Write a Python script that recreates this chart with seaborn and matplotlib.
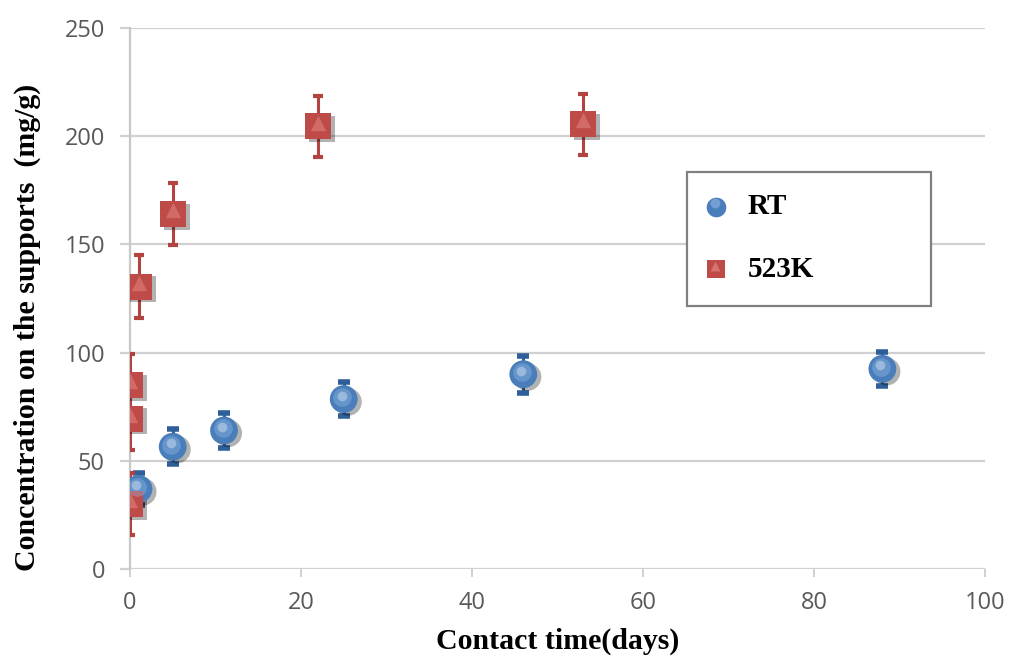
import numpy as np
import pandas as pd
import matplotlib
matplotlib.use("Agg")
import matplotlib.pyplot as plt
import matplotlib.patheffects as pe
from matplotlib.patches import Rectangle
import seaborn as sns

# Room-temperature series
rt_days = [1, 5, 11, 25, 46, 88]
rt_conc = [37, 56.5, 64, 78.5, 90, 92.5]
rt_err = [7.5, 8, 8, 8, 8.5, 8]

# 523 K series
k523_days = [0, 0, 0, 1, 5, 22, 53]
k523_conc = [30, 69.5, 85, 130.5, 164, 204.5, 205.5]
k523_err = [14.5, 14.5, 14.5, 14.5, 14.5, 14, 14]

series_names = ["RT", "523K"]
x_ticks = [0, 20, 40, 60, 80, 100]
y_ticks = [0, 50, 100, 150, 200, 250]

df = pd.concat([
    pd.DataFrame({"days": rt_days, "conc": rt_conc, "err": rt_err, "series": series_names[0]}),
    pd.DataFrame({"days": k523_days, "conc": k523_conc, "err": k523_err, "series": series_names[1]}),
], ignore_index=True)

sns.set_theme(style="white")
fig = plt.figure(figsize=(10.09, 6.59), dpi=100)
ax = fig.add_axes([0.1288, 0.1366, 0.8474, 0.8209])

palette = {"RT": "#4a7ebb", "523K": "#bf4b48"}
highlight = {"RT": "#9cc0ec", "523K": "#f09a96"}
bar_col = {"RT": "#2f5f98", "523K": "#b34341"}
markers = {"RT": "o", "523K": "s"}
sizes = {"RT": 400, "523K": 350}
shadow = [pe.SimplePatchShadow(offset=(3, -2), shadow_rgbFace="#000000", alpha=0.3), pe.Normal()]

# error bars
for name in series_names:
    sub = df[df.series == name]
    ax.errorbar(sub.days, sub.conc, yerr=sub.err, fmt="none", ecolor=bar_col[name],
                elinewidth=2.2, capsize=4.5 if name == "RT" else 3.8,
                capthick=4 if name == "RT" else 3, zorder=3)

# markers
sns.scatterplot(data=df, x="days", y="conc", hue="series", style="series",
                markers=markers, palette=palette, size="series", sizes=sizes,
                edgecolor="none", ax=ax, legend=False, zorder=4)
for coll in ax.collections:
    coll.set_path_effects(shadow)

# soft glossy shading on markers
for name in series_names:
    sub = df[df.series == name]
    if name == "RT":
        ax.scatter(sub.days - 0.15, sub.conc + 1.0, marker="o", s=sizes[name] * 0.45,
                   color=highlight[name], alpha=0.35, linewidths=0, zorder=5)
        ax.scatter(sub.days - 0.25, sub.conc + 1.6, marker="o", s=sizes[name] * 0.12,
                   color="white", alpha=0.35, linewidths=0, zorder=5)
    else:
        ax.scatter(sub.days, sub.conc + 1.8, marker="^", s=sizes[name] * 0.35,
                   color=highlight[name], alpha=0.4, linewidths=0, zorder=5)

ax.set_xlim(0, 100)
ax.set_ylim(0, 250)
ax.set_xticks(x_ticks)
ax.set_yticks(y_ticks)
ax.grid(axis="y", color="#d0d0d0", linewidth=1.6)
ax.set_axisbelow(True)
for s in ["top", "right", "bottom"]:
    ax.spines[s].set_visible(False)
ax.spines["left"].set_color("#c8c8c8")
ax.spines["left"].set_linewidth(1.6)
ax.tick_params(axis="y", which="major", left=True, length=7, width=1.6,
               color="#d0d0d0", labelsize=17, labelcolor="#595959", pad=11)
ax.tick_params(axis="x", which="major", bottom=True, length=6, width=1.4,
               color="#d0d0d0", labelsize=17, labelcolor="#595959", pad=10)
for lab in ax.get_xticklabels() + ax.get_yticklabels():
    lab.set_family("Open Sans")

ax.set_ylabel("Concentration on the supports  (mg/g)", family="Liberation Serif",
              fontweight="bold", fontsize=21.5, color="black")
ax.yaxis.set_label_coords(-0.104, 0.447)
ax.set_xlabel("Contact time(days)", family="Liberation Serif",
              fontweight="bold", fontsize=21.5, color="black", labelpad=9)

# legend box drawn in axes coordinates
ax.add_patch(Rectangle((0.6515, 0.4861), 0.2853, 0.2477, transform=ax.transAxes,
                       facecolor="white", edgecolor="#808080", linewidth=1.6, zorder=6))
leg_rows = [0.670, 0.554]
for name, yrow in zip(series_names, leg_rows):
    ax.scatter([0.6854], [yrow], marker=markers[name], s=200 if name == "RT" else 170,
               color=palette[name], transform=ax.transAxes, zorder=7, linewidths=0,
               clip_on=False)
    ax.scatter([0.6844], [yrow + 0.006], marker="o" if name == "RT" else "^", s=50,
               color=highlight[name], alpha=0.5, transform=ax.transAxes, zorder=7,
               linewidths=0, clip_on=False)
    ax.text(0.722, yrow, name, transform=ax.transAxes, va="center", ha="left",
            family="Liberation Serif", fontweight="bold", fontsize=21, color="black",
            zorder=7)

fig.savefig("out.png", dpi=100, facecolor="white")
